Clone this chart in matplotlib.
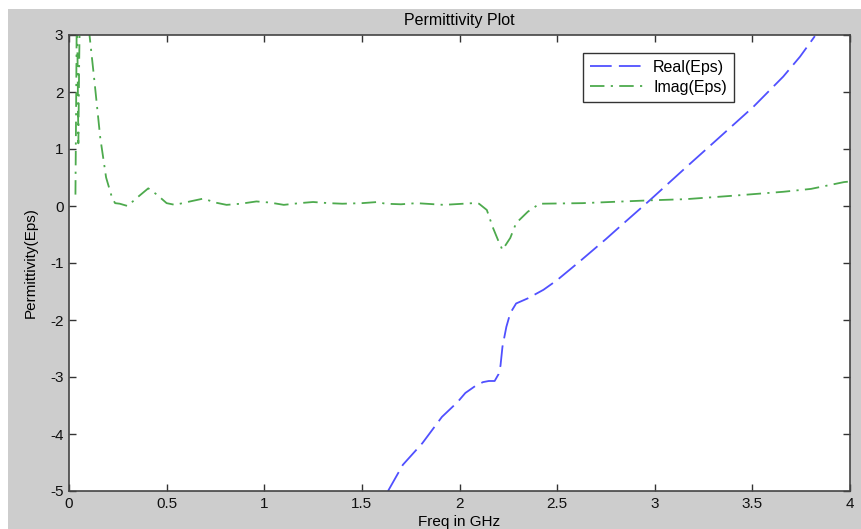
import matplotlib
matplotlib.use("Agg")
import matplotlib.pyplot as plt
from matplotlib.patches import Rectangle

# Real part of permittivity
freq_real = [1.634, 1.71, 1.81, 1.91, 1.99, 2.03, 2.08, 2.12, 2.15, 2.18,
             2.20, 2.21, 2.22, 2.24, 2.26, 2.29, 2.35, 2.43, 2.50, 2.62,
             2.75, 2.822, 2.976, 3.164, 3.317, 3.505, 3.658, 3.744, 3.82]
eps_real = [-5.0, -4.54, -4.16, -3.70, -3.44, -3.28, -3.16, -3.09, -3.07,
            -3.07, -2.95, -2.80, -2.47, -2.12, -1.88, -1.71, -1.62, -1.47,
            -1.30, -0.96, -0.58, -0.36, 0.105, 0.69, 1.16, 1.74, 2.27, 2.62,
            2.98]

# Imaginary part of permittivity
freq_imag = [0.033, 0.037, 0.040, 0.044, 0.048, 0.052, 0.056, 0.08, 0.10,
             0.105, 0.13, 0.16, 0.19, 0.22, 0.236, 0.26, 0.30, 0.35, 0.406,
             0.45, 0.50, 0.543, 0.62, 0.688, 0.75, 0.807, 0.88, 0.96, 1.03,
             1.10, 1.18, 1.25, 1.33, 1.40, 1.50, 1.58, 1.62, 1.70, 1.78,
             1.92, 2.07, 2.10, 2.14, 2.17, 2.20, 2.22, 2.26, 2.29, 2.35,
             2.41, 2.63, 2.98, 3.16, 3.40, 3.66, 3.80, 3.97, 4.0]
eps_imag = [0.2, 2.0, 3.5, 2.5, 1.1, 2.5, 3.5, 4.0, 3.2, 3.0, 2.2, 1.2,
            0.5, 0.15, 0.05, 0.04, 0.0, 0.15, 0.31, 0.2, 0.05, 0.02, 0.08,
            0.13, 0.06, 0.02, 0.04, 0.08, 0.06, 0.02, 0.05, 0.07, 0.05, 0.04,
            0.05, 0.07, 0.04, 0.03, 0.05, 0.02, 0.05, 0.04, -0.07, -0.37,
            -0.62, -0.77, -0.56, -0.30, -0.10, 0.04, 0.05, 0.10, 0.12, 0.18,
            0.25, 0.30, 0.42, 0.43]

x_ticks = [0, 0.5, 1, 1.5, 2, 2.5, 3, 3.5, 4]
x_tick_labels = ["0", "0.5", "1", "1.5", "2", "2.5", "3", "3.5", "4"]
y_ticks = [-5, -4, -3, -2, -1, 0, 1, 2, 3]

plt.rcParams["font.family"] = ["Liberation Sans", "DejaVu Sans"]
plt.rcParams["font.size"] = 11
plt.rcParams["axes.unicode_minus"] = False  # MATLAB uses a plain hyphen

W, H, DPI = 861, 529, 100
fig = plt.figure(figsize=(W / DPI, H / DPI), dpi=DPI, facecolor="white")
# grey MATLAB-style figure panel, offset a little from the top/left edge
fig.patches.append(Rectangle((8 / W, 0), (W - 8) / W, (H - 9) / H,
                             transform=fig.transFigure, facecolor="#cdcdcd",
                             edgecolor="none", zorder=-10))

ax = fig.add_axes([69 / W, (H - 491) / H, (850 - 69) / W, (491 - 35) / H])
ax.set_facecolor("white")

ax.plot(freq_real, eps_real, color="#5050ff", linestyle=(0, (12, 4)),
        linewidth=1.3, label="Real(Eps)")
ax.plot(freq_imag, eps_imag, color="#4daa4d",
        linestyle=(0, (8, 3.5, 1.2, 3.5)), linewidth=1.3, label="Imag(Eps)")

ax.set_xlim(0, 4)
ax.set_ylim(-5, 3)
ax.set_xticks(x_ticks)
ax.set_xticklabels(x_tick_labels)
ax.set_yticks(y_ticks)
ax.tick_params(direction="in", length=5, width=1, color="#333333",
               top=True, right=True, pad=4, labelcolor="#111111")
for spine in ax.spines.values():
    spine.set_color("#444444")
    spine.set_linewidth(1.2)

ax.set_title("Permittivity Plot", fontsize=11.5, pad=7)
ax.set_xlabel("Freq in GHz", labelpad=3)
ax.set_ylabel("Permittivity(Eps)", labelpad=9)

leg = ax.legend(loc="upper left", bbox_to_anchor=(0.658, 0.961),
                borderaxespad=0, fancybox=False, framealpha=1,
                edgecolor="#333333", handlelength=3.5, borderpad=0.45,
                labelspacing=0.3, handletextpad=0.45, fontsize=11.5)
leg.get_frame().set_linewidth(1.0)

fig.savefig("out.png", dpi=DPI, facecolor=fig.get_facecolor())
